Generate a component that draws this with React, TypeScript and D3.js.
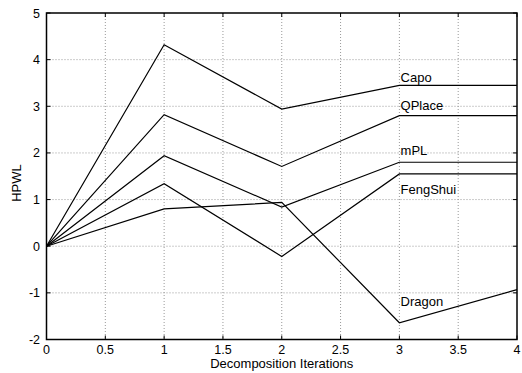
import React from "react";
import * as d3 from "d3";

const iterations = [0, 1, 2, 3, 4];
const seriesNames = ["Capo", "QPlace", "mPL", "FengShui", "Dragon"];
const capo = [0, 4.32, 2.94, 3.45, 3.45];
const qplace = [0, 2.82, 1.71, 2.8, 2.8];
const mpl = [0, 1.94, 0.84, 1.8, 1.8];
const fengshui = [0, 1.34, -0.22, 1.55, 1.55];
const dragon = [0, 0.8, 0.94, -1.64, -0.93];
const seriesValues = [capo, qplace, mpl, fengshui, dragon];
const labelX = [3.01, 3.01, 3.01, 3.01, 3.01];
const labelY = [3.51, 2.92, 1.95, 1.12, -1.29];
const xTicks = [0, 0.5, 1, 1.5, 2, 2.5, 3, 3.5, 4];
const yTicks = [-2, -1, 0, 1, 2, 3, 4, 5];

const W = 522;
const H = 373;
const L = 46.5, R = 517, T = 13, B = 339.5;
const FONT = "'Liberation Sans', Arial, Helvetica, sans-serif";

export default function App() {
  const x = d3.scaleLinear().domain([0, 4]).range([L, R]);
  const y = d3.scaleLinear().domain([-2, 5]).range([B, T]);
  const line = d3
    .line<number>()
    .x((_, i) => x(iterations[i]))
    .y((d) => y(d));
  const tk = 4;
  return (
    <svg
      width={W}
      height={H}
      style={{ position: "absolute", left: 0, top: 0, background: "#fff" }}
      fontFamily={FONT}
    >
      <rect width={W} height={H} fill="#fff" />
      {/* grid */}
      {xTicks.slice(1, -1).map((t) => (
        <line key={"gx" + t} x1={x(t)} x2={x(t)} y1={T} y2={B} stroke="#999" strokeWidth={1} strokeDasharray="1,2" />
      ))}
      {yTicks.slice(1, -1).map((t) => (
        <line key={"gy" + t} x1={L} x2={R} y1={y(t)} y2={y(t)} stroke="#999" strokeWidth={1} strokeDasharray="1,2" />
      ))}
      {/* ticks */}
      {xTicks.map((t) => (
        <g key={"tx" + t}>
          <line x1={x(t)} x2={x(t)} y1={B} y2={B - tk} stroke="#000" />
          <line x1={x(t)} x2={x(t)} y1={T} y2={T + tk} stroke="#000" />
          <text x={x(t)} y={354} fontSize={12.5} textAnchor="middle" fill="#000">
            {String(t)}
          </text>
        </g>
      ))}
      {yTicks.map((t) => (
        <g key={"ty" + t}>
          <line x1={L} x2={L + tk} y1={y(t)} y2={y(t)} stroke="#000" />
          <line x1={R} x2={R - tk} y1={y(t)} y2={y(t)} stroke="#000" />
          <text x={40} y={y(t) + 4.5} fontSize={12.5} textAnchor="end" fill="#000">
            {String(t)}
          </text>
        </g>
      ))}
      {/* series */}
      {seriesValues.map((vals, i) => (
        <path key={seriesNames[i]} d={line(vals) || ""} fill="none" stroke="#000" strokeWidth={1.2} />
      ))}
      {seriesNames.map((n, i) => (
        <text key={"lb" + n} x={x(labelX[i])} y={y(labelY[i])} fontSize={13} fill="#000">
          {n}
        </text>
      ))}
      {/* frame */}
      <rect x={L} y={T} width={R - L} height={B - T} fill="none" stroke="#000" strokeWidth={1.5} />
      <text x={(L + R) / 2} y={368} fontSize={13} textAnchor="middle" fill="#000">
        Decomposition Iterations
      </text>
      <text
        transform={`translate(21,${183}) rotate(-90)`}
        fontSize={13}
        textAnchor="middle"
        fill="#000"
      >
        HPWL
      </text>
    </svg>
  );
}
